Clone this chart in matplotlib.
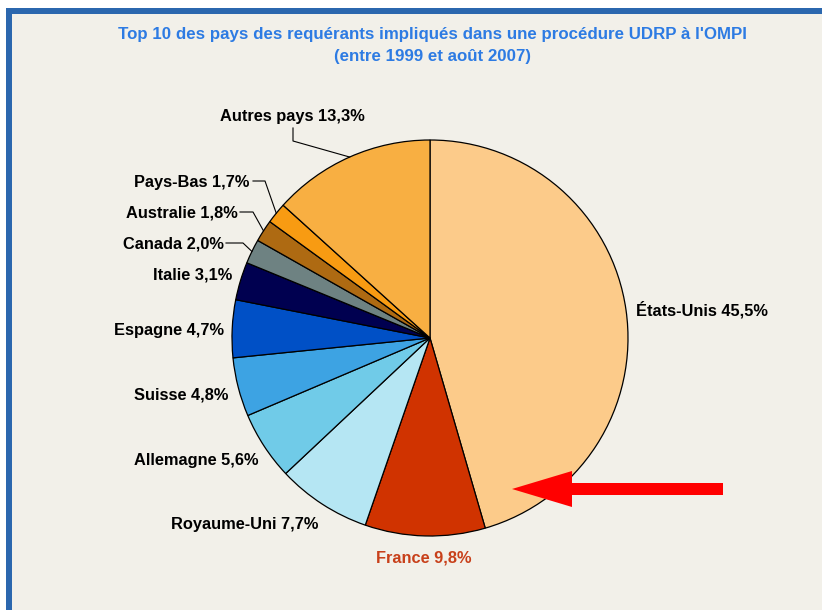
import numpy as np
import matplotlib.pyplot as plt
from matplotlib.patches import Rectangle, FancyArrow

plt.rcParams['font.family'] = ['Liberation Sans', 'DejaVu Sans']

pays = ['États-Unis', 'France', 'Royaume-Uni', 'Allemagne', 'Suisse', 'Espagne',
        'Italie', 'Canada', 'Australie', 'Pays-Bas', 'Autres pays']
parts = [45.5, 9.8, 7.7, 5.6, 4.8, 4.7, 3.1, 2.0, 1.8, 1.7, 13.3]
couleurs = ['#FCCB8A', '#D03300', '#B5E6F3', '#70CBE8', '#3DA3E3', '#0050C6',
            '#000050', '#6E8282', '#AE6A12', '#F89B12', '#F8AF42']

W, H = 822, 610
fig = plt.figure(figsize=(W / 100, H / 100), dpi=100)
fig.patch.set_facecolor('white')
ax = fig.add_axes([0, 0, 1, 1])

# cadre bleu + fond
ax.add_patch(Rectangle((12, 0), W - 12, H - 14, facecolor='#F2F0E9', edgecolor='none'))
ax.add_patch(Rectangle((6, 0), 6, H - 8, facecolor='#2B67AE', edgecolor='none'))
ax.add_patch(Rectangle((6, H - 14), W - 6, 6, facecolor='#2B67AE', edgecolor='none'))

cx, cy, r = 430, H - 338, 198
ax.pie(parts, colors=couleurs, startangle=90, counterclock=False,
       center=(cx, cy), radius=r,
       wedgeprops=dict(edgecolor='black', linewidth=0.9))
ax.set_xlim(0, W)
ax.set_ylim(0, H)
ax.set_aspect('equal')
ax.axis('off')

ax.text(432, H - 35, "Top 10 des pays des requérants impliqués dans une procédure UDRP à l'OMPI",
        ha='center', va='center', fontsize=12.2, fontweight='bold', color='#2D7BE3')
ax.text(432, H - 57, "(entre 1999 et août 2007)",
        ha='center', va='center', fontsize=12.2, fontweight='bold', color='#2D7BE3')

# position des étiquettes (pixels) : x, y, alignement
pos = {
    'États-Unis': (636, 310, 'left'),
    'France': (424, 558, 'center'),
    'Royaume-Uni': (318, 525, 'right'),
    'Allemagne': (258, 460, 'right'),
    'Suisse': (228, 395, 'right'),
    'Espagne': (224, 330, 'right'),
    'Italie': (232, 275, 'right'),
    'Canada': (224, 244, 'right'),
    'Australie': (238, 213, 'right'),
    'Pays-Bas': (249, 182, 'right'),
    'Autres pays': (292, 116, 'center'),
}
# coudes des traits de rappel
coudes = {
    'Canada': [(226, 243), (243, 243)],
    'Australie': [(240, 212), (253, 212)],
    'Pays-Bas': [(253, 181), (265, 181)],
    'Autres pays': [(293, 128), (293, 141)],
}

cum = np.cumsum([0] + parts)
for i, p in enumerate(pays):
    x, y, ha = pos[p]
    lab = f"{p} {parts[i]:.1f}%".replace('.', ',')
    col = '#C8401A' if p == 'France' else 'black'
    ax.text(x, H - y, lab, ha=ha, va='center', fontsize=11.8, fontweight='bold', color=col)
    if p in coudes:
        mid = np.deg2rad(90 - (cum[i] + parts[i] / 2) * 3.6)
        ex, ey = cx + r * np.cos(mid), cy + r * np.sin(mid)
        xs = [c[0] for c in coudes[p]] + [ex]
        ys = [H - c[1] for c in coudes[p]] + [ey]
        ax.plot(xs, ys, color='black', lw=0.8)

ax.add_patch(FancyArrow(723, H - 489, -211, 0, width=12, head_width=36, head_length=60,
                        length_includes_head=True, color='#FF0000', lw=0))

fig.savefig('out.png', dpi=100, facecolor='white')
